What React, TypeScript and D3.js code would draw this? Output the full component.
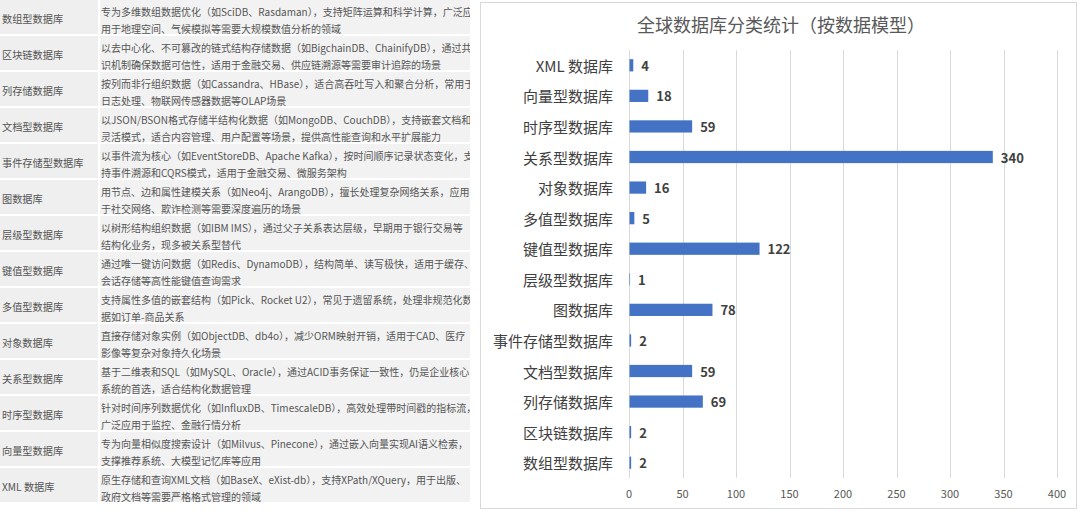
import React from "react";
import * as d3 from "d3";

const categories = [
  "XML 数据库",
  "向量型数据库",
  "时序型数据库",
  "关系型数据库",
  "对象数据库",
  "多值型数据库",
  "键值型数据库",
  "层级型数据库",
  "图数据库",
  "事件存储型数据库",
  "文档型数据库",
  "列存储数据库",
  "区块链数据库",
  "数组型数据库",
];
const counts = [4, 18, 59, 340, 16, 5, 122, 1, 78, 2, 59, 69, 2, 2];
const xTicks = [0, 50, 100, 150, 200, 250, 300, 350, 400];
const chartTitle = "全球数据库分类统计（按数据模型）";

const tableNames = [
  "数组型数据库",
  "区块链数据库",
  "列存储数据库",
  "文档型数据库",
  "事件存储型数据库",
  "图数据库",
  "层级型数据库",
  "键值型数据库",
  "多值型数据库",
  "对象数据库",
  "关系型数据库",
  "时序型数据库",
  "向量型数据库",
  "XML 数据库",
];
const tableLine1 = [
  "专为多维数组数据优化（如SciDB、Rasdaman），支持矩阵运算和科学计算，广泛应",
  "以去中心化、不可篡改的链式结构存储数据（如BigchainDB、ChainifyDB），通过共",
  "按列而非行组织数据（如Cassandra、HBase），适合高吞吐写入和聚合分析，常用于",
  "以JSON/BSON格式存储半结构化数据（如MongoDB、CouchDB），支持嵌套文档和",
  "以事件流为核心（如EventStoreDB、Apache Kafka），按时间顺序记录状态变化，支",
  "用节点、边和属性建模关系（如Neo4j、ArangoDB），擅长处理复杂网络关系，应用",
  "以树形结构组织数据（如IBM IMS），通过父子关系表达层级，早期用于银行交易等",
  "通过唯一键访问数据（如Redis、DynamoDB），结构简单、读写极快，适用于缓存、",
  "支持属性多值的嵌套结构（如Pick、Rocket U2），常见于遗留系统，处理非规范化数",
  "直接存储对象实例（如ObjectDB、db4o），减少ORM映射开销，适用于CAD、医疗",
  "基于二维表和SQL（如MySQL、Oracle），通过ACID事务保证一致性，仍是企业核心",
  "针对时间序列数据优化（如InfluxDB、TimescaleDB），高效处理带时间戳的指标流，",
  "专为向量相似度搜索设计（如Milvus、Pinecone），通过嵌入向量实现AI语义检索，",
  "原生存储和查询XML文档（如BaseX、eXist-db），支持XPath/XQuery，用于出版、",
];
const tableLine2 = [
  "用于地理空间、气候模拟等需要大规模数值分析的领域",
  "识机制确保数据可信性，适用于金融交易、供应链溯源等需要审计追踪的场景",
  "日志处理、物联网传感器数据等OLAP场景",
  "灵活模式，适合内容管理、用户配置等场景，提供高性能查询和水平扩展能力",
  "持事件溯源和CQRS模式，适用于金融交易、微服务架构",
  "于社交网络、欺诈检测等需要深度遍历的场景",
  "结构化业务，现多被关系型替代",
  "会话存储等高性能键值查询需求",
  "据如订单-商品关系",
  "影像等复杂对象持久化场景",
  "系统的首选，适合结构化数据管理",
  "广泛应用于监控、金融行情分析",
  "支撑推荐系统、大模型记忆库等应用",
  "政府文档等需要严格格式管理的领域",
];

const FONT = "'Noto Sans CJK SC', 'Noto Sans', sans-serif";

export default function App() {
  const W = 1080;
  const H = 515;

  // table geometry
  const tableTop = 0;
  const rowH = 36;
  const tableRight = 470;
  const nameColRight = 98;

  // chart geometry
  const panel = { x: 480.5, y: 2.5, w: 596, h: 506 };
  const plot = { left: 629, right: 1057, top: 50, bottom: 478 };

  const x = d3.scaleLinear().domain([0, 400]).range([plot.left, plot.right]);
  const y = d3
    .scaleBand<string>()
    .domain(categories)
    .range([plot.top, plot.bottom])
    .paddingInner(0.6)
    .paddingOuter(0.3);

  return (
    <div style={{ position: "fixed", left: 0, top: 0 }}>
      <svg width={W} height={H} style={{ display: "block", fontFamily: FONT }}>
        <rect x={0} y={0} width={W} height={H} fill="#ffffff" />
        <defs>
          <clipPath id="tableClip">
            <rect x={0} y={0} width={tableRight} height={H} />
          </clipPath>
        </defs>

        {/* Left table */}
        <g clipPath="url(#tableClip)">
          {tableNames.map((name, i) => {
            const top = tableTop + i * rowH;
            return (
              <g key={name}>
                <rect x={0} y={top} width={nameColRight} height={rowH - 2} fill="#efefef" />
                <rect x={nameColRight + 2} y={top} width={tableRight - nameColRight} height={rowH - 2} fill="#f2f2f2" />
                <text x={2} y={top + rowH / 2} dominantBaseline="central" fontSize={10.2} fill="#555555">
                  {name}
                </text>
                <text x={101} y={top + 11} dominantBaseline="central" fontSize={10} fill="#555555">
                  {tableLine1[i]}
                </text>
                <text x={101} y={top + 28.5} dominantBaseline="central" fontSize={10} fill="#555555">
                  {tableLine2[i]}
                </text>
              </g>
            );
          })}
        </g>

        {/* Chart panel */}
        <rect x={panel.x} y={panel.y} width={panel.w} height={panel.h} fill="#ffffff" stroke="#d9d9d9" strokeWidth={1} />
        <text x={781} y={24} textAnchor="middle" dominantBaseline="central" fontSize={18} fill="#595959">
          {chartTitle}
        </text>

        {/* gridlines */}
        {xTicks.map((t) => (
          <line key={"g" + t} x1={Math.round(x(t)) + 0.5} x2={Math.round(x(t)) + 0.5} y1={plot.top} y2={plot.bottom} stroke="#d9d9d9" strokeWidth={1} />
        ))}
        {xTicks.map((t) => (
          <text key={"t" + t} x={x(t)} y={493} textAnchor="middle" dominantBaseline="central" fontSize={11} fill="#595959">
            {t}
          </text>
        ))}

        {/* bars */}
        {categories.map((c, i) => {
          const by = y(c) as number;
          const bh = y.bandwidth();
          const cy = by + bh / 2;
          return (
            <g key={c}>
              <rect x={x(0) + 0.5} y={by} width={Math.max(0, x(counts[i]) - x(0) - 0.5)} height={bh} fill="#4472c4" />
              <text x={613} y={cy} textAnchor="end" dominantBaseline="central" fontSize={15} fill="#404040">
                {c}
              </text>
              <text x={x(counts[i]) + 8} y={cy} dominantBaseline="central" fontSize={13} fontWeight="bold" fill="#404040">
                {counts[i]}
              </text>
            </g>
          );
        })}
      </svg>
    </div>
  );
}
